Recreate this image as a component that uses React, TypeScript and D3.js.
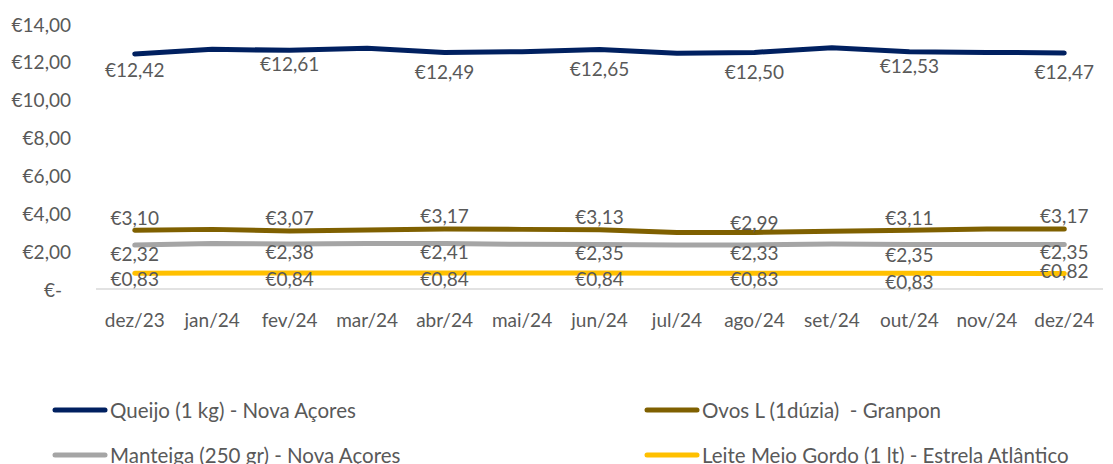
import React from "react";
import * as d3 from "d3";

const months = ["dez/23","jan/24","fev/24","mar/24","abr/24","mai/24","jun/24","jul/24","ago/24","set/24","out/24","nov/24","dez/24"];
const queijo = [12.42,12.66,12.61,12.72,12.49,12.54,12.65,12.45,12.50,12.75,12.53,12.50,12.47];
const ovos = [3.10,3.15,3.07,3.12,3.17,3.15,3.13,2.98,2.99,3.05,3.11,3.17,3.17];
const manteiga = [2.32,2.40,2.38,2.41,2.41,2.36,2.35,2.33,2.33,2.38,2.35,2.35,2.35];
const leite = [0.83,0.84,0.84,0.84,0.84,0.84,0.84,0.83,0.83,0.83,0.83,0.82,0.82];
const yTicks = [0,2,4,6,8,10,12,14];
const labeledIdx = [0,2,4,6,8,10,12];

const series = [
  { name: "Queijo (1 kg) - Nova Açores", values: queijo, color: "#002060", dy: [16,14,13,0,19,0,19,0,19,0,14,0,19] },
  { name: "Ovos L (1dúzia)  - Granpon", values: ovos, color: "#7F6000", dy: [-13,0,-13,0,-13,0,-13,0,-10,0,-13,0,-13] },
  { name: "Manteiga (250 gr) - Nova Açores", values: manteiga, color: "#A5A5A5", dy: [8,0,8,0,8,0,8,0,8,0,10,0,7] },
  { name: "Leite Meio Gordo (1 lt) - Estrela Atlântico", values: leite, color: "#FFC000", dy: [5,0,5,0,5,0,5,0,5,0,8,0,-3] },
];

const fmt = (v: number) => "€" + v.toFixed(2).replace(".", ",");

export default function App() {
  const W = 1113, H = 464;
  const x = d3.scaleBand<string>().domain(months).range([96, 1103]);
  const y = d3.scaleLinear().domain([0, 14]).range([289, 24]);
  const cx = (i: number) => (x(months[i]) as number) + x.bandwidth() / 2;
  const line = d3.line<number>().x((_, i) => cx(i)).y((v) => y(v));
  const font = "Lato, 'Open Sans', sans-serif";
  const txt = "#595959";
  const legend = [
    { s: series[0], x: 55, y: 410 },
    { s: series[1], x: 647, y: 410 },
    { s: series[2], x: 55, y: 455 },
    { s: series[3], x: 647, y: 455 },
  ];
  return (
    <svg width={W} height={H} style={{ position: "absolute", left: 0, top: 0 }} fontFamily={font}>
      <rect width={W} height={H} fill="#fff" />
      {yTicks.map((t) => (
        <text key={t} x={t === 0 ? 62 : 71} y={y(t)} textAnchor="end" dominantBaseline="central" fontSize={19} fill={txt}>
          {t === 0 ? "€-" : fmt(t)}
        </text>
      ))}
      <line x1={96} x2={1103} y1={y(0)} y2={y(0)} stroke="#D9D9D9" strokeWidth={1.5} />
      {months.map((m, i) => (
        <text key={m + i} x={cx(i)} y={319} textAnchor="middle" dominantBaseline="central" fontSize={19} fill={txt}>{m}</text>
      ))}
      {series.slice().reverse().map((s) => (
        <path key={s.name} d={line(s.values) || ""} fill="none" stroke={s.color} strokeWidth={5} strokeLinecap="round" strokeLinejoin="round" />
      ))}
      {series.map((s) =>
        labeledIdx.map((i) => (
          <text key={s.name + i} x={cx(i)} y={y(s.values[i]) + s.dy[i]} textAnchor="middle" dominantBaseline="central" fontSize={19} fill={txt}>
            {fmt(s.values[i])}
          </text>
        ))
      )}
      {legend.map((l) => (
        <g key={l.s.name}>
          <line x1={l.x} x2={l.x + 50} y1={l.y} y2={l.y} stroke={l.s.color} strokeWidth={5} strokeLinecap="round" />
          <text x={l.x + 55} y={l.y} dominantBaseline="central" fontSize={20.5} fill={txt} style={{ whiteSpace: "pre" }}>{l.s.name}</text>
        </g>
      ))}
    </svg>
  );
}
